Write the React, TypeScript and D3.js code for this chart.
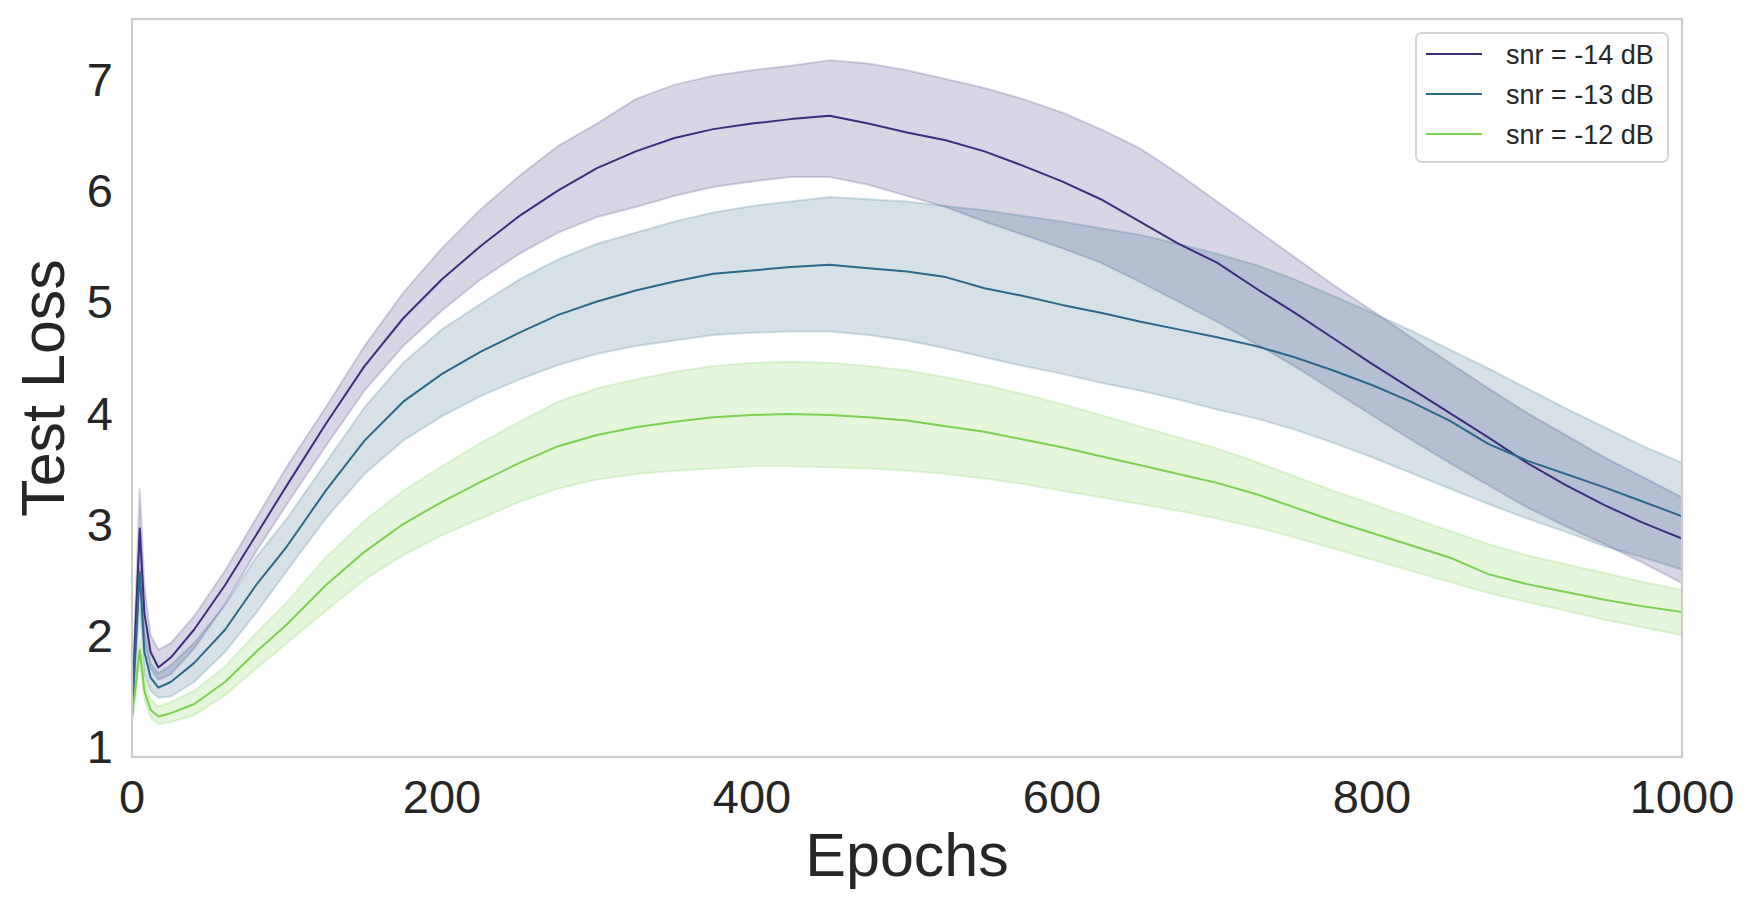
import React from 'react';
import * as d3 from 'd3';

const epochs = [0, 2, 5, 8, 12, 17, 25, 40, 60, 80, 100, 125, 150, 175, 200, 225, 250, 275, 300, 325, 350, 375, 400, 425, 450, 475, 500, 525, 550, 575, 600, 625, 650, 675, 700, 725, 750, 775, 800, 825, 850, 875, 900, 925, 950, 975, 1000];

// snr = -14 dB
const mean14 = [1.28, 2.0, 2.96, 2.2, 1.85, 1.71, 1.8, 2.05, 2.45, 2.9, 3.35, 3.9, 4.42, 4.85, 5.2, 5.5, 5.77, 6.0, 6.2, 6.35, 6.47, 6.55, 6.6, 6.64, 6.67, 6.6, 6.52, 6.45, 6.35, 6.22, 6.08, 5.92, 5.72, 5.52, 5.35, 5.12, 4.9, 4.67, 4.44, 4.22, 4.0, 3.78, 3.55, 3.35, 3.17, 3.01, 2.87];
const upper14 = [1.32, 2.2, 3.32, 2.45, 2.0, 1.87, 1.93, 2.17, 2.58, 3.05, 3.52, 4.05, 4.6, 5.08, 5.48, 5.83, 6.13, 6.4, 6.6, 6.82, 6.95, 7.03, 7.08, 7.12, 7.17, 7.14, 7.08, 7.0, 6.92, 6.82, 6.7, 6.55, 6.38, 6.15, 5.9, 5.65, 5.4, 5.15, 4.92, 4.68, 4.45, 4.22, 4.0, 3.8, 3.6, 3.42, 3.24];
const lower14 = [1.24, 1.8, 2.6, 1.95, 1.7, 1.6, 1.65, 1.88, 2.28, 2.75, 3.18, 3.7, 4.2, 4.6, 4.92, 5.2, 5.43, 5.62, 5.76, 5.85, 5.95, 6.03, 6.08, 6.12, 6.12, 6.05, 5.95, 5.85, 5.72, 5.6, 5.48, 5.35, 5.18, 5.0, 4.82, 4.62, 4.42, 4.2, 3.98, 3.76, 3.55, 3.35, 3.15, 2.98, 2.82, 2.65, 2.47];

// snr = -13 dB
const mean13 = [1.28, 1.8, 2.57, 1.85, 1.62, 1.53, 1.58, 1.75, 2.05, 2.45, 2.8, 3.3, 3.75, 4.1, 4.35, 4.55, 4.72, 4.88, 5.0, 5.1, 5.18, 5.25, 5.28, 5.31, 5.33, 5.3, 5.27, 5.22, 5.12, 5.05, 4.97, 4.9, 4.82, 4.75, 4.68, 4.6, 4.5, 4.38, 4.25, 4.1, 3.93, 3.72, 3.57, 3.45, 3.33, 3.2, 3.07];
const upper13 = [1.32, 2.0, 2.9, 2.05, 1.75, 1.66, 1.73, 1.93, 2.27, 2.7, 3.05, 3.55, 4.05, 4.45, 4.75, 4.98, 5.2, 5.38, 5.52, 5.62, 5.72, 5.8, 5.86, 5.9, 5.94, 5.92, 5.9, 5.86, 5.82, 5.77, 5.72, 5.66, 5.6, 5.52, 5.43, 5.33, 5.2, 5.05, 4.9, 4.74, 4.57, 4.4, 4.22, 4.04, 3.87, 3.7, 3.55];
const lower13 = [1.24, 1.6, 2.25, 1.65, 1.5, 1.44, 1.45, 1.58, 1.85, 2.2, 2.58, 3.05, 3.45, 3.75, 3.97, 4.15, 4.3, 4.43, 4.53, 4.6, 4.65, 4.7, 4.72, 4.73, 4.73, 4.7, 4.65, 4.58, 4.5, 4.42, 4.35, 4.27, 4.2, 4.12, 4.03, 3.95, 3.85, 3.73, 3.6, 3.46, 3.32, 3.18, 3.05, 2.93, 2.8, 2.7, 2.59];

// snr = -12 dB
const mean12 = [1.26, 1.5, 1.87, 1.5, 1.33, 1.27, 1.3, 1.38, 1.58, 1.85, 2.1, 2.45, 2.75, 3.0, 3.2, 3.38, 3.55, 3.7, 3.8, 3.87, 3.92, 3.96, 3.98, 3.99, 3.98, 3.96, 3.93, 3.88, 3.83, 3.76, 3.69, 3.61, 3.53, 3.45, 3.37, 3.27, 3.15, 3.03, 2.92, 2.81, 2.7, 2.55, 2.46, 2.39, 2.32, 2.26, 2.21];
const upper12 = [1.3, 1.58, 1.97, 1.6, 1.42, 1.36, 1.4, 1.5, 1.72, 2.02, 2.3, 2.7, 3.03, 3.3, 3.52, 3.73, 3.92, 4.1, 4.22, 4.3, 4.37, 4.42, 4.45, 4.46, 4.45, 4.42, 4.38, 4.32, 4.25, 4.17, 4.08, 3.98, 3.88, 3.78, 3.68, 3.56, 3.43, 3.3, 3.18, 3.06, 2.94, 2.82, 2.72, 2.64, 2.56, 2.48, 2.41];
const lower12 = [1.22, 1.42, 1.77, 1.42, 1.26, 1.2, 1.22, 1.28, 1.46, 1.7, 1.93, 2.22, 2.5, 2.72, 2.9, 3.05, 3.2, 3.32, 3.4, 3.45, 3.48, 3.5, 3.52, 3.52, 3.51, 3.5, 3.48, 3.45, 3.41, 3.36, 3.3, 3.24, 3.18, 3.12, 3.05, 2.97, 2.88, 2.78, 2.68, 2.58, 2.48, 2.38, 2.3, 2.22, 2.14, 2.07, 2.0];

const seriesNames = ['snr = -14 dB', 'snr = -13 dB', 'snr = -12 dB'];
const seriesColors = ['#3d2e7e', '#2b6889', '#7ad151'];
const xTicks = [0, 200, 400, 600, 800, 1000];
const yTicks = [1, 2, 3, 4, 5, 6, 7];

const W = 1754;
const H = 907;
const M = { left: 132, top: 19, right: 1682, bottom: 757 };
const FONT = '"Liberation Sans", Arial, sans-serif';
const INK = '#262626';

const App: React.FC = () => {
  const x = d3.scaleLinear().domain([0, 1000]).range([M.left, M.right]);
  const y = d3.scaleLinear().domain([0.906, 7.54]).range([M.bottom, M.top]);

  const series = [
    { mean: mean14, lo: lower14, hi: upper14 },
    { mean: mean13, lo: lower13, hi: upper13 },
    { mean: mean12, lo: lower12, hi: upper12 },
  ];

  const idx = epochs.map((_, i) => i);

  return (
    <div style={{ position: 'absolute', left: 0, top: 0 }}>
      <svg width={W} height={H} style={{ display: 'block', background: '#fff' }}>
        <defs>
          <clipPath id="plot-clip">
            <rect x={M.left} y={M.top} width={M.right - M.left} height={M.bottom - M.top} />
          </clipPath>
        </defs>

        <g clipPath="url(#plot-clip)">
          {/* confidence bands first, lines on top */}
          {series.map((s, k) => {
            const band = d3.area<number>()
              .x(i => x(epochs[i]))
              .y0(i => y(s.lo[i]))
              .y1(i => y(s.hi[i]));
            return (
              <path key={'band' + k} d={band(idx) || ''}
                fill={seriesColors[k]} fillOpacity={0.2}
                stroke={seriesColors[k]} strokeOpacity={0.2} strokeWidth={2} />
            );
          })}
          {series.map((s, k) => {
            const line = d3.line<number>()
              .x(i => x(epochs[i]))
              .y(i => y(s.mean[i]));
            return (
              <path key={'line' + k} d={line(idx) || ''}
                fill="none" stroke={seriesColors[k]} strokeWidth={2} strokeLinejoin="round" />
            );
          })}
        </g>

        {/* spines */}
        <rect x={M.left} y={M.top} width={M.right - M.left} height={M.bottom - M.top}
          fill="none" stroke="#cccccc" strokeWidth={2.2} />

        {yTicks.map(t => (
          <text key={'y' + t} x={M.left - 19} y={y(t)} dy="0.36em" textAnchor="end"
            fontFamily={FONT} fontSize={47} fill={INK}>{t}</text>
        ))}

        {xTicks.map(t => (
          <text key={'x' + t} x={x(t)} y={813} textAnchor="middle"
            fontFamily={FONT} fontSize={47} fill={INK}>{t}</text>
        ))}

        <text x={(M.left + M.right) / 2} y={876} textAnchor="middle"
          fontFamily={FONT} fontSize={61} fill={INK}>Epochs</text>
        <text transform={`translate(64, ${(M.top + M.bottom) / 2}) rotate(-90)`} textAnchor="middle"
          fontFamily={FONT} fontSize={61} fill={INK}>Test Loss</text>

        {/* legend */}
        <g>
          <rect x={1416} y={33} width={252} height={129} rx={6}
            fill="#fff" fillOpacity={0.8} stroke="#d6d6d6" strokeWidth={2} />
          {seriesNames.map((name, k) => {
            const ly = 54 + k * 40;
            return (
              <g key={name}>
                <line x1={1426} x2={1482} y1={ly} y2={ly} stroke={seriesColors[k]} strokeWidth={2} />
                <text x={1506} y={ly + 10} fontFamily={FONT} fontSize={27} fill={INK}>{name}</text>
              </g>
            );
          })}
        </g>
      </svg>
    </div>
  );
};

export default App;
